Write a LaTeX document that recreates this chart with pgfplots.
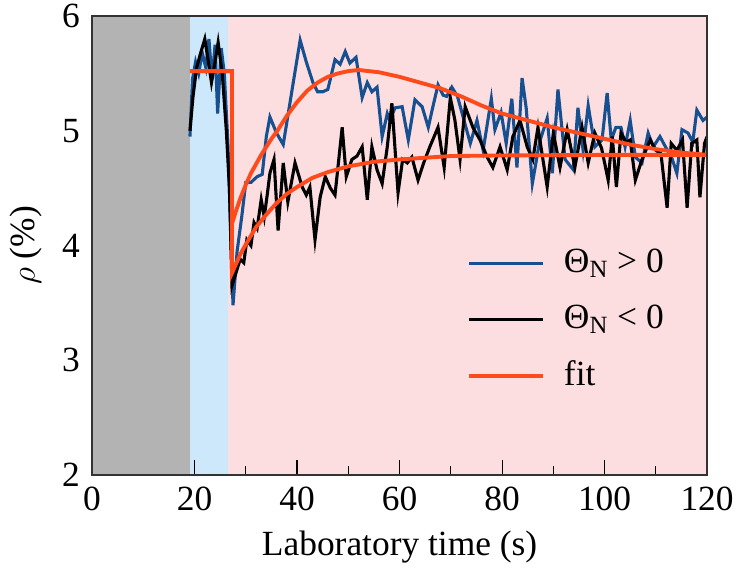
\documentclass[border=0pt]{standalone}
\usepackage{pgfplots}
\pgfplotsset{compat=1.18}
\usepackage{fontspec}
\setmainfont{Liberation Serif}
\definecolor{bggray}{RGB}{179,179,179}
\definecolor{bgblue}{RGB}{205,232,251}
\definecolor{bgpink}{RGB}{253,222,224}
\definecolor{dblue}{RGB}{22,80,145}
\definecolor{fitred}{RGB}{255,74,28}
\begin{document}
\fontsize{18.3}{22}\selectfont
\begin{tikzpicture}
\begin{axis}[
  name=ax,
  scale only axis,
  width=318pt, height=237.3pt,
  xmin=0, xmax=120, ymin=2, ymax=6,
  xtick={0,20,...,120}, minor xtick={30,50,70,90,110},
  ytick={2,3,4,5,6},
  tick align=inside,
  xtick pos=bottom, ytick pos=left,
  major tick length=8pt, minor tick length=4.5pt,
  ytick style={draw=none},
  tick style={black, line width=0.6pt},
  axis line style={black!80, line width=0.7pt},
  axis on top,
  /pgf/number format/assume math mode=true,
  xlabel={Laboratory time (s)},
  ylabel={$\rho$ (\%)},
  xlabel style={yshift=2pt},
  ylabel style={yshift=-2pt},
  tick label style={font=\fontsize{18.3}{22}\selectfont},
  label style={font=\fontsize{18.3}{22}\selectfont},
  legend style={draw=none, fill=none, at={(0.6,0.51)}, anchor=north west,
    font=\fontsize{18.3}{22}\selectfont, row sep=10pt,
    /tikz/every odd column/.append style={column sep=8pt}},
  legend cell align=left,
  legend image code/.code={\draw[#1] (0pt,0pt) -- (38pt,0pt);},
  clip=true,
]
\addplot[draw=none, fill=bggray, forget plot] coordinates {(0,2) (0,6) (19.1,6) (19.1,2)} -- cycle;
\addplot[draw=none, fill=bgblue, forget plot] coordinates {(19.1,2) (19.1,6) (26.6,6) (26.6,2)} -- cycle;
\addplot[draw=none, fill=bgpink, forget plot] coordinates {(26.6,2) (26.6,6) (120,6) (120,2)} -- cycle;

% Theta_N > 0
\addplot[dblue, line width=1.6pt] coordinates {
(19.1,4.95) (19.6,5.45) (20.2,5.6) (20.8,5.5) (21.5,5.68) (22.2,5.55) (22.8,5.8) (23.4,5.45) (24.0,5.75) (24.5,5.15) (25.2,5.72) (25.8,5.5) (26.5,4.9) (27.0,4.2) (27.5,3.48) (28.3,3.95) (29.2,4.25) (30.0,4.55) (31.0,4.55) (32.2,4.6) (33.2,4.62) (34.0,4.95) (34.7,5.12) (36.0,4.98) (37.3,4.88) (39.0,5.35) (40.6,5.79) (41.8,5.6) (43.1,5.42) (44.0,5.34) (45.0,5.34) (46.0,5.36) (47.4,5.62) (48.4,5.58) (49.4,5.69) (50.3,5.59) (51.5,5.64) (52.7,5.29) (53.7,5.42) (54.6,5.34) (55.6,5.38) (56.6,4.95) (57.6,5.15) (58.1,5.09) (59.1,5.2) (60.5,5.21) (61.7,4.92) (63.0,5.27) (64.4,5.21) (65.6,5.03) (66.5,5.21) (67.5,5.4) (68.5,5.31) (69.2,5.3) (70.2,5.38) (71.3,5.3) (72.4,5.12) (73.8,4.89) (75.1,5.09) (76.3,4.83) (77.9,5.28) (78.6,5.01) (79.8,5.16) (80.8,4.89) (81.9,5.28) (82.9,4.68) (83.9,5.46) (84.7,5.2) (85.9,4.54) (87.3,4.9) (88.8,5.11) (89.8,4.63) (90.9,5.36) (92.3,4.75) (93.9,4.66) (94.8,5.2) (95.8,4.83) (96.8,5.22) (98.1,4.86) (99.5,4.92) (100.5,5.33) (101.3,4.92) (102.2,5.03) (103.2,5.03) (104.0,4.86) (105.0,5.09) (106.0,4.77) (107.3,4.72) (108.5,4.98) (109.5,4.86) (110.8,4.95) (112.0,4.85) (113.0,4.78) (114.1,4.63) (115.1,5.01) (116.3,4.98) (117.2,4.9) (118.0,5.18) (119.2,5.09) (120.0,5.12)
};
\addlegendentry{Θ\textsubscript{N} > 0}

% Theta_N < 0
\addplot[black, line width=1.6pt] coordinates {
(19.1,5.0) (19.7,5.3) (20.4,5.55) (21.2,5.68) (22.0,5.8) (22.7,5.6) (23.3,5.42) (24.0,5.6) (24.6,5.77) (25.4,5.5) (26.2,5.0) (26.8,4.5) (27.3,3.65) (28.0,3.75) (28.9,3.88) (29.6,3.85) (30.2,4.05) (31.0,4.0) (31.6,4.2) (32.2,4.15) (33.0,4.4) (33.6,4.25) (34.2,4.45) (34.7,4.63) (35.5,4.75) (36.3,4.13) (37.3,4.72) (38.2,4.38) (39.6,4.72) (41.0,4.51) (41.8,4.44) (42.5,4.51) (43.5,4.05) (44.5,4.42) (45.5,4.6) (46.5,4.5) (47.4,4.44) (48.8,5.03) (49.6,4.6) (50.7,4.75) (51.7,4.78) (52.7,4.86) (53.7,4.4) (54.6,4.86) (55.6,4.66) (56.6,4.54) (57.6,4.86) (58.5,5.24) (59.7,4.46) (60.6,4.75) (61.5,4.72) (62.4,4.77) (63.6,4.57) (64.7,4.72) (65.9,4.86) (67.5,5.03) (68.7,4.68) (69.9,5.29) (70.8,5.09) (71.8,4.75) (72.8,5.21) (74.3,5.03) (75.7,4.92) (77.1,4.77) (78.2,4.68) (79.6,4.86) (81.0,4.66) (82.1,4.95) (83.5,5.09) (84.9,4.86) (86.0,4.75) (87.0,5.03) (88.8,4.51) (90.0,4.98) (91.3,4.68) (92.7,5.01) (94.2,4.68) (95.6,5.03) (96.8,4.72) (98.1,4.98) (99.4,4.85) (100.7,4.57) (101.5,4.95) (102.3,4.51) (103.2,4.98) (104.2,4.9) (105.0,4.92) (106.0,4.57) (107.3,4.75) (108.9,4.92) (110.0,4.83) (111.0,4.8) (112.2,4.33) (113.0,4.89) (114.1,4.83) (115.2,4.92) (116.1,4.33) (117.0,4.89) (118.0,4.92) (118.6,4.42) (119.5,4.89) (120.0,4.95)
};
\addlegendentry{Θ\textsubscript{N} < 0}

% fits
\addplot[fitred, line width=2pt] coordinates {
(19.1,5.52) (27.3,5.52) (27.3,4.19) (28,4.29) (29,4.42) (30,4.53) (31,4.63) (32,4.71) (33,4.79) (34,4.86) (35,4.93) (36,4.99) (38,5.13) (40,5.25) (42,5.35) (44,5.42) (46,5.47) (48,5.50) (50,5.52) (52,5.53) (54,5.52) (56,5.51) (58,5.49) (60,5.47) (64,5.42) (68,5.37) (72,5.30) (76,5.22) (80,5.15) (85,5.09) (90,5.03) (95,4.98) (100,4.93) (105,4.88) (110,4.84) (115,4.81) (120,4.79)
};
\addlegendentry{fit}
\addplot[fitred, line width=2pt, forget plot] coordinates {
(19.1,5.52) (27.3,5.52) (27.3,3.76) (28,3.83) (29,3.93) (30,4.01) (32,4.16) (34,4.27) (36,4.37) (38,4.45) (40,4.51) (43,4.59) (46,4.64) (50,4.69) (55,4.73) (60,4.75) (70,4.78) (80,4.785) (100,4.79) (120,4.79)
};
\end{axis}
\pgfresetboundingbox
\useasboundingbox ([shift={(-47.6pt,-51.7pt)}]ax.south west) rectangle ([shift={(16.5pt,8.3pt)}]ax.north east);
\end{tikzpicture}
\end{document}
